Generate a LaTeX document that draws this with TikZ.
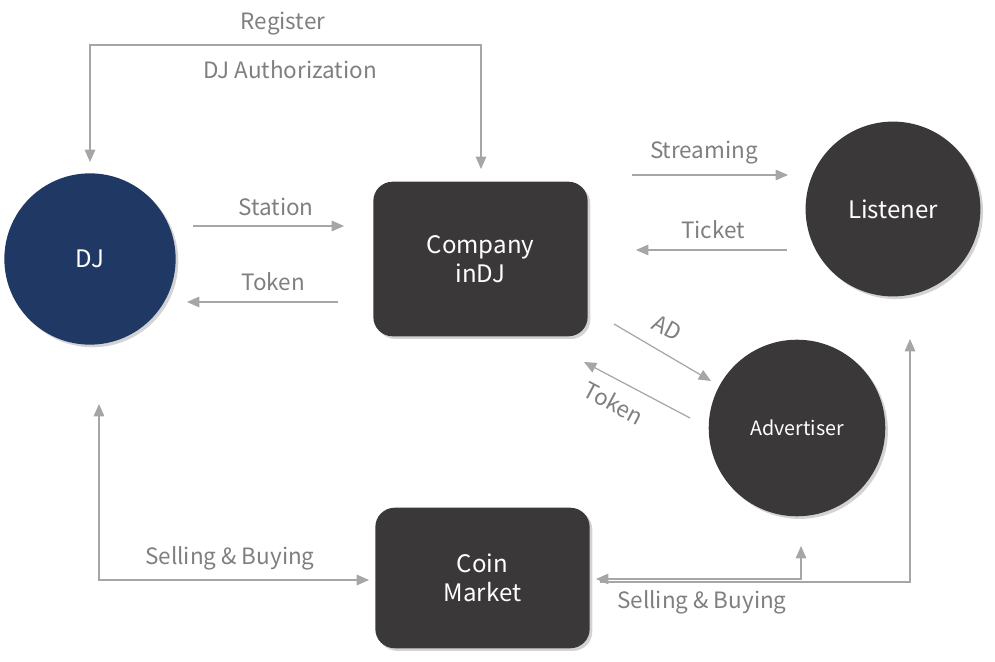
\documentclass[tikz,border=0pt]{standalone}
\usepackage{fontspec}
\setmainfont{Noto Sans CJK KR}
\usetikzlibrary{arrows.meta,shadows}
\definecolor{djblue}{HTML}{1F3864}
\definecolor{darkbox}{HTML}{3A3838}
\definecolor{linegray}{HTML}{A6A6A6}
\definecolor{textgray}{HTML}{7F7F7F}
\tikzset{
  shade/.style={drop shadow={opacity=0.35,shadow xshift=1.5pt,shadow yshift=-1.5pt}},
  circ/.style={circle,minimum size=#1,inner sep=0pt,shade,text=white,font=\fontsize{13.7}{16}\selectfont},
  rbox/.style={rectangle,rounded corners=11pt,minimum width=122pt,minimum height=88pt,inner sep=0pt,fill=darkbox,shade,text=white,align=center,font=\fontsize{13.7}{16.5}\selectfont},
  conn/.style={draw=linegray,line width=0.7pt,-{Triangle[length=7pt,width=6pt]}},
  lbl/.style={text=textgray,font=\fontsize{12.8}{15}\selectfont,inner sep=0pt},
}
\begin{document}
\begin{tikzpicture}[x=0.02cm,y=-0.02cm]
\useasboundingbox (0,0) rectangle (995,662);
% nodes
\node[circ=97.5pt,fill=djblue] (dj) at (90,259) {DJ};
\node[rbox] (company) at (480.5,259) {Company\\inDJ};
\node[circ=99.5pt,fill=darkbox] (listener) at (893,209) {Listener};
\node[circ=100.5pt,fill=darkbox,font=\fontsize{11.2}{13}\selectfont] (advertiser) at (797,428) {Advertiser};
\node[rbox,minimum height=80pt] (coin) at (482.5,578) {Coin\\Market};
% coordinates
\coordinate (regA) at (90,162);
\coordinate (regB) at (90,45);
\coordinate (regC) at (481,45);
\coordinate (regD) at (481,169);
\coordinate (stA) at (193,226);
\coordinate (stB) at (344,226);
\coordinate (tkA) at (338,302);
\coordinate (tkB) at (187,302);
\coordinate (smA) at (632,175);
\coordinate (smB) at (788,175);
\coordinate (tiA) at (787,250);
\coordinate (tiB) at (636,250);
\coordinate (adA) at (614,324);
\coordinate (adB) at (711,381);
\coordinate (to2A) at (690,418);
\coordinate (to2B) at (584,362);
\coordinate (sbA) at (99,404);
\coordinate (sbB) at (99,580);
\coordinate (sbC) at (369,580);
\coordinate (sb2A) at (596,579);
\coordinate (sb2B) at (801,579);
\coordinate (sb2C) at (801,546);
\coordinate (sb3A) at (600,582);
\coordinate (sb3B) at (910,582);
\coordinate (sb3C) at (910,339);
% connectors
\draw[conn,{Triangle[length=7pt,width=6pt]}-{Triangle[length=7pt,width=6pt]}] (regA) -- (regB) -- (regC) -- (regD);
\draw[conn] (stA) -- (stB);
\draw[conn] (tkA) -- (tkB);
\draw[conn] (smA) -- (smB);
\draw[conn] (tiA) -- (tiB);
\draw[conn] (adA) -- (adB);
\draw[conn] (to2A) -- (to2B);
\draw[conn,{Triangle[length=7pt,width=6pt]}-{Triangle[length=7pt,width=6pt]}] (sbA) -- (sbB) -- (sbC);
\draw[conn,{Triangle[length=7pt,width=6pt]}-{Triangle[length=7pt,width=6pt]}] (sb2A) -- (sb2B) -- (sb2C);
\draw[conn] (sb3A) -- (sb3B) -- (sb3C);
% labels
\node[lbl] (lreg) at (283,24) {Register};
\node[lbl] (lauth) at (290,70) {DJ Authorization};
\node[lbl] (lst) at (276,207) {Station};
\node[lbl] (ltk) at (273,282) {Token};
\node[lbl] (lsm) at (704,153) {Streaming};
\node[lbl] (lti) at (713,230) {Ticket};
\node[lbl,rotate=-28] (lad) at (667,328) {AD};
\node[lbl,rotate=-28] (ltk2) at (614,403) {Token};
\node[lbl] (lsb) at (230,558) {Selling \& Buying};
\node[lbl] (lsb2) at (702,602) {Selling \& Buying};
\end{tikzpicture}
\end{document}
